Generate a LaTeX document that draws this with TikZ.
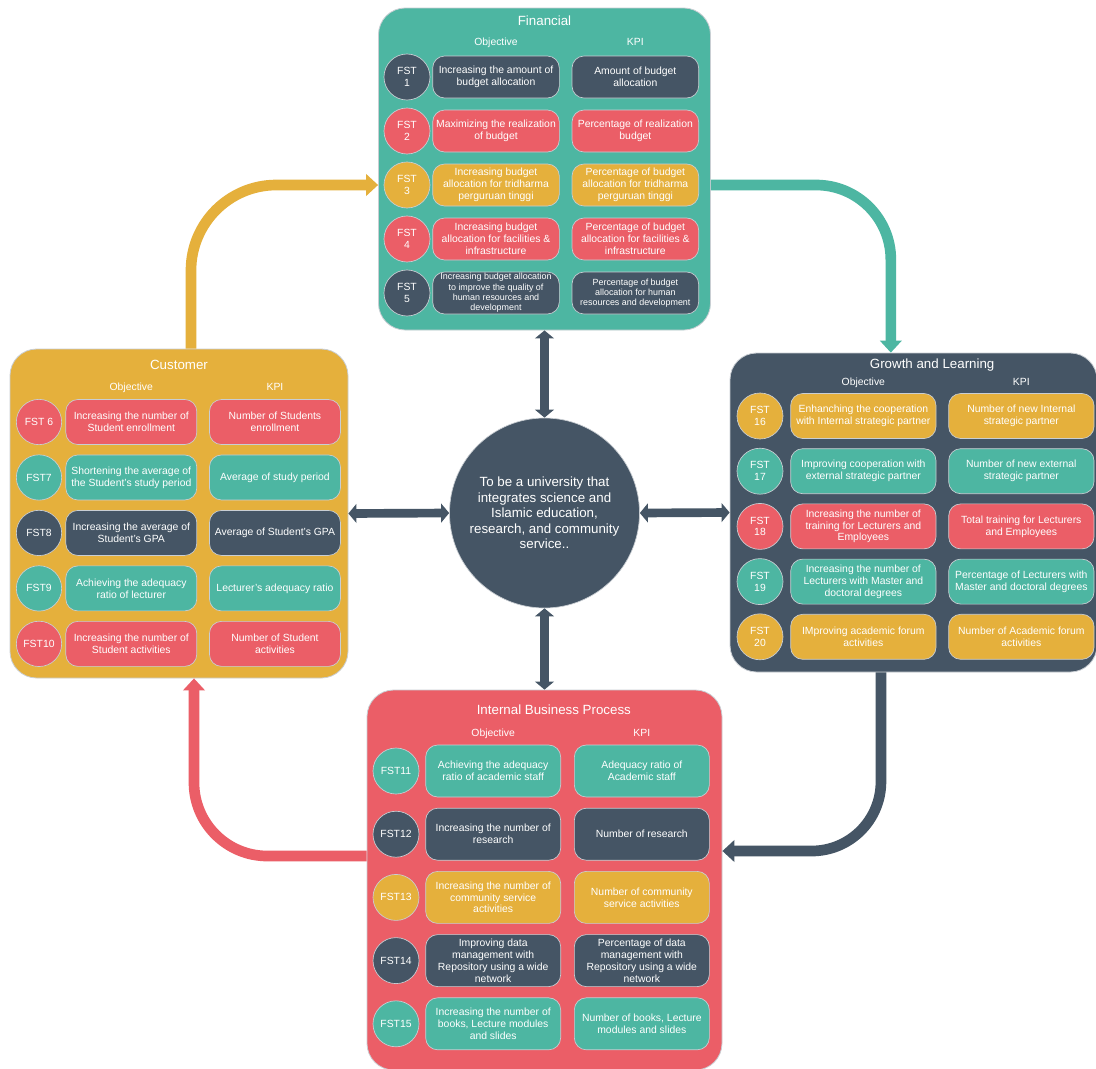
\documentclass[tikz,border=0pt]{standalone}
\usepackage{fontspec}
\setmainfont{Liberation Sans}
\usepackage{tikz}
\usetikzlibrary{arrows.meta,positioning,calc}

\definecolor{bscteal}{HTML}{4DB6A2}
\definecolor{bscslate}{HTML}{455565}
\definecolor{bscred}{HTML}{EB5E67}
\definecolor{bscgold}{HTML}{E5B03C}
\definecolor{bscedge}{HTML}{C9CED3}

\begin{document}
\begin{tikzpicture}[
        x=0.75pt, y=-0.75pt,
        every node/.style={font=\fontsize{7.8}{8.9}\selectfont, text=white},
        panel/.style={draw=bscedge, line width=0.6pt, rounded corners=20pt, inner sep=0pt},
        title/.style={font=\fontsize{10}{12}\selectfont, inner sep=0pt},
        headline/.style={inner sep=0pt, text height=5.8pt, text depth=1.6pt},
        fst/.style={circle, draw=bscedge, line width=0.5pt, inner sep=0pt, align=center},
        item/.style={draw=bscedge, line width=0.5pt, rounded corners=9pt, align=center, inner sep=1pt},
        finfst/.style={fst, minimum size=34.5pt},
        finitem/.style={item, minimum width=95pt, minimum height=31.5pt},
        custfst/.style={fst, minimum size=34pt},
        custitem/.style={item, minimum width=98.25pt, minimum height=33.75pt},
        growfst/.style={fst, minimum size=34.5pt},
        growitem/.style={item, minimum width=109pt, minimum height=33.75pt},
        ibpfst/.style={fst, minimum size=34.5pt},
        ibpitem/.style={item, minimum width=101.25pt, minimum height=39pt},
        small/.style={font=\fontsize{6.7}{7.7}\selectfont},
        dblarrow/.style={{Triangle[length=6pt,width=14pt]}-{Triangle[length=6pt,width=14pt]}, line width=6.5pt, draw=bscslate},
        bigarrow/.style={-{Triangle[length=9pt,width=16pt]}, line width=8pt}
    ]

    \path[use as bounding box, fill=white] (0,0) rectangle (1096,1068);

    % perspective panels
    \node[panel, fill=bscteal, minimum width=249pt, minimum height=241.5pt] (fin) at (544.5,169) {};
    \node[panel, fill=bscgold, minimum width=253.5pt, minimum height=246.75pt] (cust) at (179,513.5) {};
    \node[panel, fill=bscslate, minimum width=275.25pt, minimum height=239.25pt] (grow) at (913.5,512.5) {};
    \node[panel, fill=bscred, minimum width=266.25pt, minimum height=285pt] (ibp) at (544.5,880) {};

    \node[circle, fill=bscslate, draw=bscedge, line width=0.5pt, minimum size=142.5pt, inner sep=0pt,
          align=center, font=\fontsize{10}{11.6}\selectfont] (vision) at (544.5,513) {
        To be a university that\\
        integrates science and\\
        Islamic education,\\
        research, and community\\
        service..
    };

    % Financial
    \node[title] at ([yshift=-9.75pt]fin.north) {Financial};

    \node[finfst, fill=bscslate] (f1) at (407,77) {FST\\1};
    \node[finfst, fill=bscred, below=5.5pt of f1] (f2) {FST\\2};
    \node[finfst, fill=bscgold, below=5.5pt of f2] (f3) {FST\\3};
    \node[finfst, fill=bscred, below=5.5pt of f3] (f4) {FST\\4};
    \node[finfst, fill=bscslate, below=5.5pt of f4] (f5) {FST\\5};

    \node[finitem, fill=bscslate, right=1.5pt of f1] (f1obj) {Increasing the amount of\\budget allocation};
    \node[finitem, fill=bscred, right=1.5pt of f2] (f2obj) {Maximizing the realization\\of budget};
    \node[finitem, fill=bscgold, right=1.5pt of f3] (f3obj) {Increasing budget\\allocation for tridharma\\perguruan tinggi};
    \node[finitem, fill=bscred, right=1.5pt of f4] (f4obj) {Increasing budget\\allocation for facilities \&\\infrastructure};
    \node[finitem, small, fill=bscslate, right=1.5pt of f5] (f5obj) {Increasing budget allocation\\to improve the quality of\\human resources and\\development};

    \node[finitem, fill=bscslate, right=9pt of f1obj] (f1kpi) {Amount of budget\\allocation};
    \node[finitem, fill=bscred, right=9pt of f2obj] (f2kpi) {Percentage of realization\\budget};
    \node[finitem, fill=bscgold, right=9pt of f3obj] (f3kpi) {Percentage of budget\\allocation for tridharma\\perguruan tinggi};
    \node[finitem, fill=bscred, right=9pt of f4obj] (f4kpi) {Percentage of budget\\allocation for facilities \&\\infrastructure};
    \node[finitem, small, fill=bscslate, right=9pt of f5obj] (f5kpi) {Percentage of budget\\allocation for human\\resources and development};

    \node[headline, above=6pt of f1obj] {Objective};
    \node[headline, above=6pt of f1kpi] {KPI};

    % Customer
    \node[title] at ([yshift=-12pt]cust.north) {Customer};

    \node[custfst, fill=bscred] (c6) at (39,422) {FST 6};
    \node[custfst, fill=bscteal, below=7.1pt of c6] (c7) {FST7};
    \node[custfst, fill=bscslate, below=7.1pt of c7] (c8) {FST8};
    \node[custfst, fill=bscteal, below=7.1pt of c8] (c9) {FST9};
    \node[custfst, fill=bscred, below=7.1pt of c9] (c10) {FST10};

    \node[custitem, fill=bscred, right=2.6pt of c6] (c6obj) {Increasing the number of\\Student enrollment};
    \node[custitem, fill=bscteal, right=2.6pt of c7] (c7obj) {Shortening the average of\\the Student's study period};
    \node[custitem, fill=bscslate, right=2.6pt of c8] (c8obj) {Increasing the average of\\Student's GPA};
    \node[custitem, fill=bscteal, right=2.6pt of c9] (c9obj) {Achieving the adequacy\\ratio of lecturer};
    \node[custitem, fill=bscred, right=2.6pt of c10] (c10obj) {Increasing the number of\\Student activities};

    \node[custitem, fill=bscred, right=9pt of c6obj] (c6kpi) {Number of Students\\enrollment};
    \node[custitem, fill=bscteal, right=9pt of c7obj] (c7kpi) {Average of study period};
    \node[custitem, fill=bscslate, right=9pt of c8obj] (c8kpi) {Average of Student's GPA};
    \node[custitem, fill=bscteal, right=9pt of c9obj] (c9kpi) {Lecturer's adequacy ratio};
    \node[custitem, fill=bscred, right=9pt of c10obj] (c10kpi) {Number of Student\\activities};

    \node[headline, above=5pt of c6obj] {Objective};
    \node[headline, above=5pt of c6kpi] {KPI};

    % Growth and Learning
    \node[title] at ([xshift=14pt, yshift=-9pt]grow.north) {Growth and Learning};

    \node[growfst, fill=bscgold] (g16) at (760,416) {FST\\16};
    \node[growfst, fill=bscteal, below=6.4pt of g16] (g17) {FST\\17};
    \node[growfst, fill=bscred, below=6.4pt of g17] (g18) {FST\\18};
    \node[growfst, fill=bscteal, below=6.4pt of g18] (g19) {FST\\19};
    \node[growfst, fill=bscgold, below=6.4pt of g19] (g20) {FST\\20};

    \node[growitem, fill=bscgold, right=5.25pt of g16] (g16obj) {Enhanching the cooperation\\with Internal strategic partner};
    \node[growitem, fill=bscteal, right=5.25pt of g17] (g17obj) {Improving cooperation with\\external strategic partner};
    \node[growitem, fill=bscred, right=5.25pt of g18] (g18obj) {Increasing the number of\\training for Lecturers and\\Employees};
    \node[growitem, fill=bscteal, right=5.25pt of g19] (g19obj) {Increasing the number of\\Lecturers with Master and\\doctoral degrees};
    \node[growitem, fill=bscgold, right=5.25pt of g20] (g20obj) {IMproving academic forum\\activities};

    \node[growitem, fill=bscgold, right=9pt of g16obj] (g16kpi) {Number of new Internal\\strategic partner};
    \node[growitem, fill=bscteal, right=9pt of g17obj] (g17kpi) {Number of new external\\strategic partner};
    \node[growitem, fill=bscred, right=9pt of g18obj] (g18kpi) {Total training for Lecturers\\and Employees};
    \node[growitem, fill=bscteal, right=9pt of g19obj] (g19kpi) {Percentage of Lecturers with\\Master and doctoral degrees};
    \node[growitem, fill=bscgold, right=9pt of g20obj] (g20kpi) {Number of Academic forum\\activities};

    \node[headline, above=4.2pt of g16obj] {Objective};
    \node[headline, above=4.2pt of g16kpi] {KPI};

    % Internal Business Process
    \node[title] at ([xshift=7pt, yshift=-15pt]ibp.north) {Internal Business Process};

    \node[ibpfst, fill=bscteal] (p11) at (396,771) {FST11};
    \node[ibpfst, fill=bscslate, below=12.4pt of p11] (p12) {FST12};
    \node[ibpfst, fill=bscgold, below=12.4pt of p12] (p13) {FST13};
    \node[ibpfst, fill=bscslate, below=12.4pt of p13] (p14) {FST14};
    \node[ibpfst, fill=bscteal, below=12.4pt of p14] (p15) {FST15};

    \node[ibpitem, fill=bscteal, right=4.5pt of p11] (p11obj) {Achieving the adequacy\\ratio of academic staff};
    \node[ibpitem, fill=bscslate, right=4.5pt of p12] (p12obj) {Increasing the number of\\research};
    \node[ibpitem, fill=bscgold, right=4.5pt of p13] (p13obj) {Increasing the number of\\community service\\activities};
    \node[ibpitem, fill=bscslate, right=4.5pt of p14] (p14obj) {Improving data\\management with\\Repository using a wide\\network};
    \node[ibpitem, fill=bscteal, right=4.5pt of p15] (p15obj) {Increasing the number of\\books, Lecture modules\\and slides};

    \node[ibpitem, fill=bscteal, right=9.75pt of p11obj] (p11kpi) {Adequacy ratio of\\Academic staff};
    \node[ibpitem, fill=bscslate, right=9.75pt of p12obj] (p12kpi) {Number of research};
    \node[ibpitem, fill=bscgold, right=9.75pt of p13obj] (p13kpi) {Number of community\\service activities};
    \node[ibpitem, fill=bscslate, right=9.75pt of p14obj] (p14kpi) {Percentage of data\\management with\\Repository using a wide\\network};
    \node[ibpitem, fill=bscteal, right=9.75pt of p15obj] (p15kpi) {Number of books, Lecture\\modules and slides};

    \node[headline, above=4.5pt of p11obj] {Objective};
    \node[headline, above=4.5pt of p11kpi] {KPI};

    % vision links
    \draw[dblarrow] (fin.south) -- (vision.north);
    \draw[dblarrow] (vision.south) -- (ibp.north);
    \draw[dblarrow] (cust.east) -- (vision.west);
    \draw[dblarrow] (vision.east) -- (grow.west);

    % cycle between perspectives
    \draw[bigarrow, bscgold, rounded corners=64pt] ([xshift=9pt]cust.north) |- (fin.west |- f3);
    \draw[bigarrow, bscteal, rounded corners=56pt] (fin.east |- f3) -| ([xshift=-17pt]grow.north);
    \draw[bigarrow, bscslate, rounded corners=52pt] ([xshift=-24.4pt]grow.south) |- ([yshift=21.75pt]ibp.east);
    \draw[bigarrow, bscred, rounded corners=55pt] ([yshift=18pt]ibp.west) -| ([xshift=11.25pt]cust.south);

\end{tikzpicture}
\end{document}
